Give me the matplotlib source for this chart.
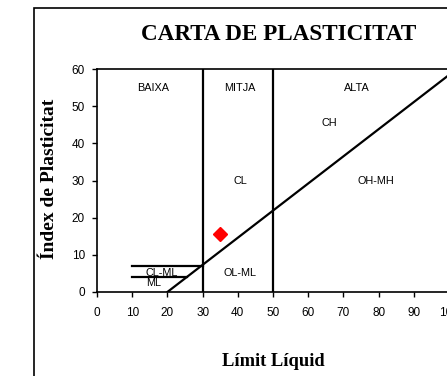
import matplotlib
matplotlib.use("Agg")
import matplotlib.pyplot as plt
from matplotlib.patches import Rectangle

# A-line (PI = 0.73 * (LL - 20))
a_line_x = [20, 100]
a_line_y = [0, 58.4]

# region boundaries
vert_x = [30, 50]
vert_top = 60
clml_x = [10, 30]
clml_y = [7, 7]
ml_x = [10, 25.5]
ml_y = [4, 4]

# sample point
sample_ll = [35]
sample_pi = [15.5]

# zone labels
zone_names = ["BAIXA", "MITJA", "ALTA", "CH", "CL", "OH-MH", "OL-ML", "CL-ML", "ML"]
zone_x = [16, 40.5, 73.8, 66, 40.6, 79.3, 40.6, 18.4, 16]
zone_y = [55, 55, 55, 45.5, 30, 30, 5.2, 5.2, 2.4]

xticks = list(range(0, 101, 10))
yticks = list(range(0, 61, 10))

fig = plt.figure(figsize=(4.47, 3.76), dpi=100)
fig.patch.set_facecolor("white")

# outer chart frame (runs off the right and bottom edge)
frame = Rectangle((34 / 447, -0.1), 1.2, 1 - 8 / 376 + 0.1, transform=fig.transFigure,
                  fill=False, edgecolor="black", lw=1.2, clip_on=False)
fig.patches.append(frame)

ax = fig.add_axes([97 / 447, 1 - 292 / 376, 352 / 447, 223 / 376])
ax.set_xlim(0, 100)
ax.set_ylim(0, 60)

ax.plot(a_line_x, a_line_y, color="black", lw=1.6)
for x in vert_x:
    ax.plot([x, x], [0, vert_top], color="black", lw=1.6)
ax.plot(clml_x, clml_y, color="black", lw=1.6)
ax.plot(ml_x, ml_y, color="black", lw=1.6)

ax.plot(sample_ll, sample_pi, marker="D", color="red", ms=7, ls="none")

for name, x, y in zip(zone_names, zone_x, zone_y):
    ax.text(x, y, name, ha="center", va="center", fontsize=7.8, family="Liberation Sans")

ax.set_xticks(xticks)
ax.set_yticks(yticks)
ax.tick_params(direction="out", length=3.6, width=1, labelsize=8.5)
ax.tick_params(axis="x", pad=7)
ax.tick_params(axis="y", pad=5)
for lab in ax.get_xticklabels() + ax.get_yticklabels():
    lab.set_family("Liberation Sans")
for sp in ax.spines.values():
    sp.set_linewidth(1.2)

fig.text(279 / 447, 1 - 35 / 376, "CARTA DE PLASTICITAT", ha="center", va="center",
         fontsize=16.7, fontweight="bold", family="Liberation Serif")
fig.text(273 / 447, 1 - 361 / 376, "Límit Líquid", ha="center", va="center",
         fontsize=13.3, fontweight="bold", family="Liberation Serif")
fig.text(50 / 447, 1 - 179 / 376, "Índex de Plasticitat", ha="center", va="center",
         rotation=90, fontsize=14, fontweight="bold", family="Liberation Serif")

fig.savefig("out.png", dpi=100)
